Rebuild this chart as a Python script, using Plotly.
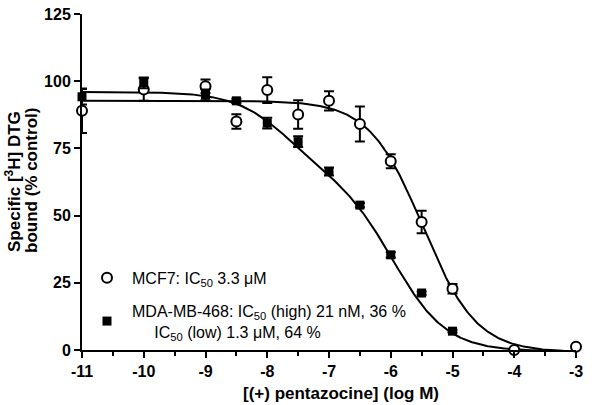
import numpy as np
import plotly.graph_objects as go

# ---------------- data ----------------
log_conc_mcf7 = [-11, -10, -9, -8.5, -8, -7.5, -7, -6.5, -6, -5.5, -5, -4, -3]
mcf7_bound = [89.0, 96.9, 98.1, 85.0, 96.7, 87.6, 92.7, 84.1, 70.2, 47.6, 22.8, 0.0, 1.2]
mcf7_err = [8.3, 4.2, 2.5, 2.7, 4.8, 5.3, 3.6, 6.5, 2.6, 4.2, 1.8, 0.0, 0.0]

log_conc_mda = [-11, -10, -9, -8.5, -8, -7.5, -7, -6.5, -6, -5.5, -5]
mda_bound = [94.2, 99.4, 94.9, 92.7, 84.4, 77.5, 66.4, 53.9, 35.4, 21.2, 7.0]
mda_err = [2.9, 2.0, 2.0, 0.8, 2.0, 2.0, 1.5, 0.8, 1.0, 0.6, 0.5]

x_tick_vals = [-11, -10, -9, -8, -7, -6, -5, -4, -3]
x_tick_labels = ["-11", "-10", "-9", "-8", "-7", "-6", "-5", "-4", "-3"]
y_tick_vals = [0, 25, 50, 75, 100, 125]

# ---------------- fitted-curve parameters (one-site / two-site competition) ----------------
mcf7_log_ic50 = -5.48      # IC50 3.3 uM
mcf7_hill = 1.0
mcf7_bottom = -0.84
mcf7_span = 93.6

mda_frac_high = 0.32
mda_log_ic50_high = -7.70  # ~21 nM
mda_log_ic50_low = -5.95   # ~1.3 uM
mda_bottom = -0.5
mda_span = 96.5

curve_x = np.linspace(-11, -3, 400)
mcf7_curve = mcf7_bottom + mcf7_span / (1 + 10 ** (mcf7_hill * (curve_x - mcf7_log_ic50)))
mda_curve = mda_bottom + mda_span * (
    mda_frac_high / (1 + 10 ** (curve_x - mda_log_ic50_high))
    + (1 - mda_frac_high) / (1 + 10 ** (curve_x - mda_log_ic50_low))
)

FONT = "Liberation Sans, Arial, Helvetica, sans-serif"

fig = go.Figure()
fig.add_trace(go.Scatter(x=curve_x, y=mcf7_curve, mode="lines", line=dict(color="black", width=2),
                         showlegend=False, hoverinfo="skip"))
fig.add_trace(go.Scatter(x=curve_x, y=mda_curve, mode="lines", line=dict(color="black", width=2),
                         showlegend=False, hoverinfo="skip"))

fig.add_trace(go.Scatter(
    x=log_conc_mcf7, y=mcf7_bound, mode="markers", cliponaxis=False,
    name="MCF7: IC<sub>50</sub> 3.3 μM", legendgroup="a",
    marker=dict(symbol="circle", size=10, color="white", line=dict(color="black", width=2)),
    error_y=dict(type="data", array=mcf7_err, color="black", thickness=2, width=5),
))
fig.add_trace(go.Scatter(
    x=log_conc_mda, y=mda_bound, mode="markers", cliponaxis=False,
    name="MDA-MB-468: IC<sub>50</sub> (high) 21 nM, 36 %<br>\u00a0\u00a0\u00a0\u00a0\u00a0IC<sub>50</sub> (low) 1.3 μM, 64 %",
    legendgroup="b",
    marker=dict(symbol="square", size=9, color="black", line=dict(color="black", width=0)),
    error_y=dict(type="data", array=mda_err, color="black", thickness=2, width=5),
))

fig.update_layout(
    width=606, height=405,
    margin=dict(l=82, r=30, t=6, b=55),
    plot_bgcolor="white", paper_bgcolor="white",
    font=dict(family=FONT, color="black"),
    showlegend=True,
    legend=dict(x=0.0, y=0.265, xanchor="left", yanchor="top", bgcolor="rgba(0,0,0,0)",
                font=dict(size=16, family=FONT, color="black"), itemwidth=40,
                traceorder="grouped", tracegroupgap=9, valign="middle"),
    xaxis=dict(range=[-11, -3], tickmode="array", tickvals=x_tick_vals, ticktext=x_tick_labels,
               showline=True, linecolor="black", linewidth=2, ticks="outside", ticklen=6,
               tickwidth=2, tickcolor="black", showgrid=False, zeroline=False,
               ticklabeloverflow="allow",
               tickfont=dict(size=16, family=FONT, weight="bold", color="black"),
               minor=dict(ticks="outside", ticklen=4, tickwidth=2, tickcolor="black",
                          tickmode="linear", tick0=-11, dtick=0.5, showgrid=False)),
    yaxis=dict(range=[0, 125], tickmode="array", tickvals=y_tick_vals,
               showline=True, linecolor="black", linewidth=2, ticks="outside", ticklen=6,
               tickwidth=2, tickcolor="black", showgrid=False, zeroline=False,
               ticklabeloverflow="allow",
               tickfont=dict(size=16, family=FONT, weight="bold", color="black")),
    annotations=[
        dict(text="[(+) pentazocine] (log M)", xref="paper", yref="paper", x=0.524, y=-0.128,
             xanchor="center", yanchor="middle", showarrow=False,
             font=dict(size=17, family=FONT, weight="bold", color="black")),
        dict(text="Specific [<sup>3</sup>H] DTG", xref="paper", yref="paper", x=-0.1397, y=0.503,
             xanchor="center", yanchor="middle", showarrow=False, textangle=-90,
             font=dict(size=17, family=FONT, weight="bold", color="black")),
        dict(text="bound (% control)", xref="paper", yref="paper", x=-0.1012, y=0.503,
             xanchor="center", yanchor="middle", showarrow=False, textangle=-90,
             font=dict(size=17, family=FONT, weight="bold", color="black")),
    ],
)

fig.write_html("out.html", config={"displayModeBar": False},
               post_script="document.body.style.margin='0px';")
